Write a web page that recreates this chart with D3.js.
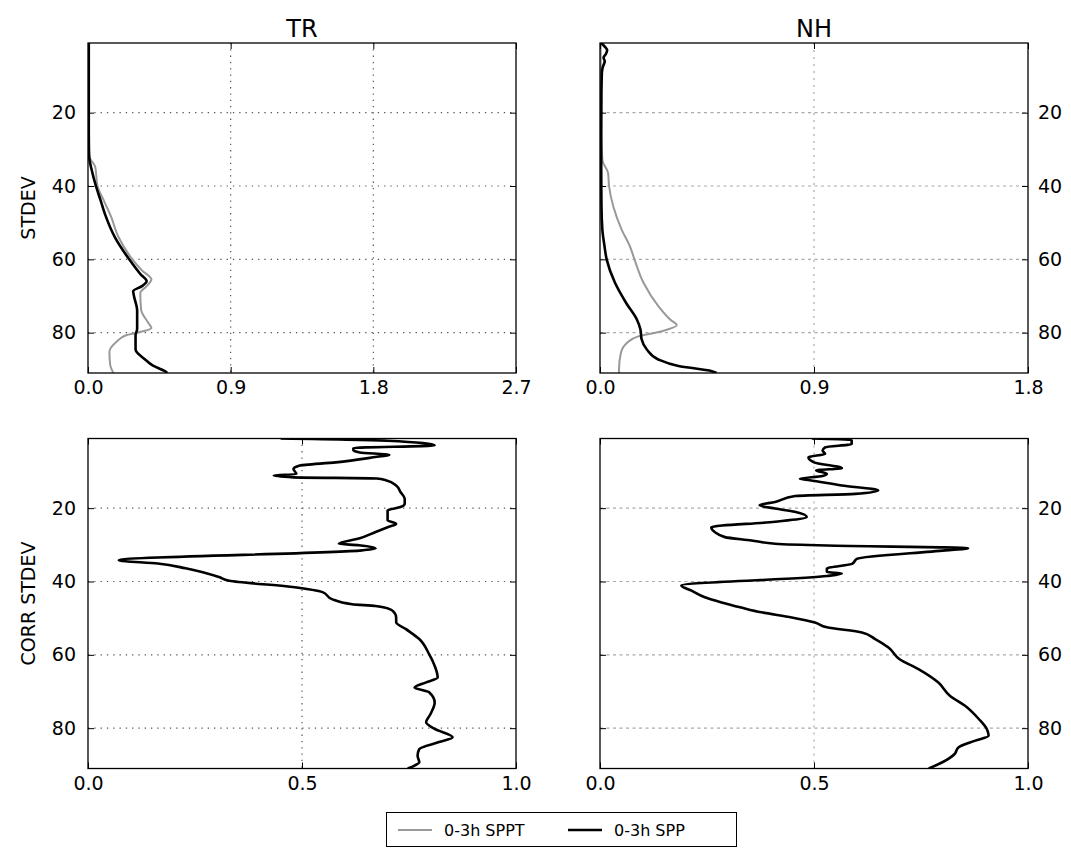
<!DOCTYPE html>
<html>
<head>
<meta charset="utf-8">
<script src="https://cdn.jsdelivr.net/npm/d3@7"></script>
<style>
  body { margin: 0; background: #fff; }
  svg { font-family: "DejaVu Sans", sans-serif; }
</style>
</head>
<body>
<div id="chart"></div>
<script>
// model levels (1 = top of atmosphere, 91 = surface)
const levelDomain = [1, 91];
const levelTicks = [20, 40, 60, 80];
const regions = ["TR", "NH"];
const rowLabels = ["STDEV", "CORR STDEV"];
const seriesNames = ["0-3h SPPT", "0-3h SPP"];
const stdTicksTR = [0.0, 0.9, 1.8, 2.7];
const stdTicksNH = [0.0, 0.9, 1.8];
const corrTicks = [0.0, 0.5, 1.0];

// TR, stdev
const trStdSpptLev = [1, 20, 32, 34.7, 40, 44, 48.3, 53.7, 60, 63, 65.5, 67.3, 69.2, 73.7, 77.3, 78.7, 80, 80.7, 82.5, 85.2, 88.8, 91];
const trStdSpptVal = [0.005, 0.005, 0.01, 0.045, 0.06, 0.10, 0.145, 0.19, 0.28, 0.34, 0.40, 0.37, 0.33, 0.335, 0.38, 0.40, 0.31, 0.24, 0.18, 0.135, 0.14, 0.16];
const trStdSppLev = [1, 10, 20, 30, 33, 35, 40, 44, 48, 54, 60, 64, 66, 67.3, 68.7, 70, 74, 79, 80.7, 84.6, 87.3, 89, 90.5, 91];
const trStdSppVal = [0.005, 0.005, 0.005, 0.005, 0.01, 0.02, 0.05, 0.08, 0.11, 0.17, 0.26, 0.33, 0.37, 0.34, 0.285, 0.29, 0.31, 0.31, 0.30, 0.30, 0.36, 0.41, 0.485, 0.5];

// NH, stdev
const nhStdSpptLev = [1, 20, 32.9, 36.5, 40, 45.6, 51.9, 56.5, 60, 66.4, 72.8, 76.4, 78, 79.6, 81, 82.8, 85.5, 90, 91];
const nhStdSpptVal = [0.003, 0.003, 0.01, 0.034, 0.038, 0.056, 0.091, 0.126, 0.145, 0.183, 0.246, 0.295, 0.323, 0.26, 0.161, 0.113, 0.088, 0.08, 0.08];
const nhStdSppLev = [1, 2, 3, 4, 5, 6, 7.5, 9, 15, 30, 45, 52, 56, 60, 66.4, 71.9, 76.4, 79.1, 81.8, 84.6, 87.3, 89.1, 90.5, 91];
const nhStdSppVal = [0.005, 0.02, 0.03, 0.025, 0.015, 0.02, 0.012, 0.008, 0.006, 0.005, 0.006, 0.01, 0.018, 0.028, 0.063, 0.11, 0.155, 0.17, 0.175, 0.197, 0.245, 0.33, 0.47, 0.49];

// TR, corr stdev
const trCorrLev = [1, 1.6, 2.9, 3.6, 4.2, 4.8, 5.5, 6, 7.5, 8.4, 9.3, 10.7, 11.1, 11.6, 11.9, 12.4, 13.8, 15.6, 17.4, 18.8, 19.7, 20.6, 22, 23.3, 24.3, 25.2, 26.5, 28.3, 29.7, 30.1, 31, 31.5, 34.2, 35.1, 36.4, 38.8, 39.8, 41.5, 42.9, 44.8, 46.2, 46.7, 48, 49.8, 51.1, 53, 55.7, 59.8, 63, 66.2, 67.5, 68.9, 70.2, 73, 76.2, 78.4, 80.2, 82.5, 83.8, 85.7, 87.5, 89.3, 90.2, 91];
const trCorrVal = [0.45, 0.70, 0.81, 0.62, 0.62, 0.635, 0.704, 0.675, 0.579, 0.493, 0.48, 0.487, 0.434, 0.48, 0.675, 0.696, 0.72, 0.73, 0.74, 0.74, 0.73, 0.70, 0.70, 0.70, 0.72, 0.70, 0.672, 0.633, 0.586, 0.633, 0.672, 0.64, 0.072, 0.163, 0.228, 0.306, 0.33, 0.478, 0.548, 0.57, 0.617, 0.672, 0.712, 0.72, 0.72, 0.743, 0.774, 0.797, 0.81, 0.817, 0.79, 0.763, 0.797, 0.81, 0.80, 0.79, 0.81, 0.852, 0.82, 0.774, 0.77, 0.774, 0.763, 0.747];

// NH, corr stdev
const nhCorrLev = [1, 1.4, 2.5, 3.4, 4.3, 5.2, 6.1, 7.5, 9.1, 9.7, 10.6, 11.2, 12, 12.4, 13.8, 15.2, 16.1, 16.7, 18.3, 19.2, 20.1, 21, 22.4, 23.7, 25.2, 26.5, 27.9, 28.8, 29.7, 30.2, 30.9, 31.5, 33.8, 35.1, 36.5, 37.4, 37.8, 38.5, 41.1, 42.5, 44.3, 45.7, 47.1, 48.4, 49.8, 51.2, 52.5, 53.9, 55.7, 58, 61.2, 63.9, 67.5, 71.2, 73.9, 77.5, 80.3, 82.1, 83.4, 85.2, 87.1, 89.3, 91];
const nhCorrVal = [0.495, 0.588, 0.588, 0.526, 0.52, 0.526, 0.487, 0.50, 0.565, 0.505, 0.53, 0.52, 0.467, 0.49, 0.565, 0.65, 0.596, 0.456, 0.409, 0.373, 0.409, 0.455, 0.483, 0.409, 0.26, 0.268, 0.292, 0.354, 0.409, 0.53, 0.86, 0.807, 0.6, 0.59, 0.53, 0.53, 0.565, 0.53, 0.19, 0.214, 0.245, 0.284, 0.33, 0.377, 0.448, 0.502, 0.53, 0.612, 0.643, 0.674, 0.70, 0.744, 0.79, 0.818, 0.853, 0.885, 0.904, 0.908, 0.877, 0.838, 0.828, 0.80, 0.768];

const pair = (lev, val) => lev.map((l, i) => ({ lev: l, val: val[i] }));

const width = 1071, height = 848;
const colX = [88, 600], rowY = [43, 438.5];
const pw = 428, ph = 330;

const panels = [
  { row: 0, col: 0, ticks: stdTicksTR, lines: [pair(trStdSpptLev, trStdSpptVal), pair(trStdSppLev, trStdSppVal)] },
  { row: 0, col: 1, ticks: stdTicksNH, lines: [pair(nhStdSpptLev, nhStdSpptVal), pair(nhStdSppLev, nhStdSppVal)] },
  { row: 1, col: 0, ticks: corrTicks, lines: [null, pair(trCorrLev, trCorrVal)] },
  { row: 1, col: 1, ticks: corrTicks, lines: [null, pair(nhCorrLev, nhCorrVal)] }
];
const lineColor = ["#999999", "#000000"];
const lineWidth = [2, 2.6];

const svg = d3.select("#chart").append("svg")
  .attr("width", width)
  .attr("height", height);

panels.forEach((p, i) => {
  const x0 = colX[p.col], y0 = rowY[p.row];
  const x = d3.scaleLinear().domain(d3.extent(p.ticks)).range([x0, x0 + pw]);
  const y = d3.scaleLinear().domain(levelDomain).range([y0, y0 + ph]);
  const g = svg.append("g");
  const gridColor = p.col == 0 ? "#555" : "#aaa";

  g.append("clipPath").attr("id", "clip" + i)
    .append("rect").attr("x", x0).attr("y", y0).attr("width", pw).attr("height", ph);

  // grid
  g.selectAll(".vgrid").data(p.ticks.slice(1, -1)).join("line")
    .attr("x1", d => x(d)).attr("x2", d => x(d))
    .attr("y1", y0).attr("y2", y0 + ph)
    .attr("stroke", gridColor).attr("stroke-width", 1.2)
    .attr("stroke-dasharray", p.col == 0 ? "1.3,5" : "2,5");
  g.selectAll(".hgrid").data(levelTicks).join("line")
    .attr("x1", x0).attr("x2", x0 + pw)
    .attr("y1", d => y(d)).attr("y2", d => y(d))
    .attr("stroke", gridColor).attr("stroke-width", 1.2)
    .attr("stroke-dasharray", p.col == 0 ? "1.3,5" : "3,3.5");

  // curves
  const line = d3.line().curve(d3.curveMonotoneY).x(d => x(d.val)).y(d => y(d.lev));
  p.lines.forEach((data, k) => {
    if (!data) return;
    g.append("path")
      .datum(data)
      .attr("clip-path", `url(#clip${i})`)
      .attr("fill", "none")
      .attr("stroke", lineColor[k])
      .attr("stroke-width", lineWidth[k])
      .attr("stroke-linejoin", "round")
      .attr("d", line);
  });

  // axes, ticks pointing inward
  const fmt = d3.format(".1f");
  const bottom = g.append("g").attr("transform", `translate(0,${y0 + ph})`)
    .call(d3.axisBottom(x).tickValues(p.ticks).tickFormat(fmt).tickSize(-6).tickSizeOuter(0).tickPadding(8));
  const top = g.append("g").attr("transform", `translate(0,${y0})`)
    .call(d3.axisTop(x).tickValues(p.ticks).tickFormat("").tickSize(-6).tickSizeOuter(0));
  const left = g.append("g").attr("transform", `translate(${x0},0)`)
    .call(d3.axisLeft(y).tickValues(levelTicks).tickFormat(p.col == 0 ? d3.format("d") : "").tickSize(-6).tickSizeOuter(0).tickPadding(12));
  const right = g.append("g").attr("transform", `translate(${x0 + pw},0)`)
    .call(d3.axisRight(y).tickValues(levelTicks).tickFormat(p.col == 1 ? d3.format("d") : "").tickSize(-6).tickSizeOuter(0).tickPadding(10));
  [bottom, top, left, right].forEach(a => {
    a.select(".domain").remove();
    a.selectAll("line").attr("stroke", "#000").attr("stroke-width", 1);
    a.selectAll("text").attr("fill", "#000").style("font-size", "19px").style("font-family", "DejaVu Sans");
  });

  g.append("rect")
    .attr("x", x0).attr("y", y0).attr("width", pw).attr("height", ph)
    .attr("fill", "none").attr("stroke", "#000").attr("stroke-width", 1.3);
});

// column titles
svg.selectAll(".title").data(regions).join("text")
  .attr("x", (d, i) => colX[i] + pw / 2)
  .attr("y", 37)
  .attr("text-anchor", "middle")
  .style("font-size", "24px")
  .text(d => d);

// row labels
svg.selectAll(".rowlabel").data(rowLabels).join("text")
  .attr("transform", (d, i) => `translate(35,${rowY[i] + ph / 2}) rotate(-90)`)
  .attr("text-anchor", "middle")
  .style("font-size", "19px")
  .text(d => d);

// legend
const legend = svg.append("g");
legend.append("rect")
  .attr("x", 386.5).attr("y", 812.5).attr("width", 350).attr("height", 34)
  .attr("fill", "#fff").attr("stroke", "#000").attr("stroke-width", 1);
const legX = [398, 568];
seriesNames.forEach((name, k) => {
  legend.append("line")
    .attr("x1", legX[k]).attr("x2", legX[k] + 34)
    .attr("y1", 830).attr("y2", 830)
    .attr("stroke", lineColor[k]).attr("stroke-width", lineWidth[k]);
  legend.append("text")
    .attr("x", legX[k] + 46).attr("y", 835.5)
    .style("font-size", "16px")
    .text(name);
});
</script>
</body>
</html>
